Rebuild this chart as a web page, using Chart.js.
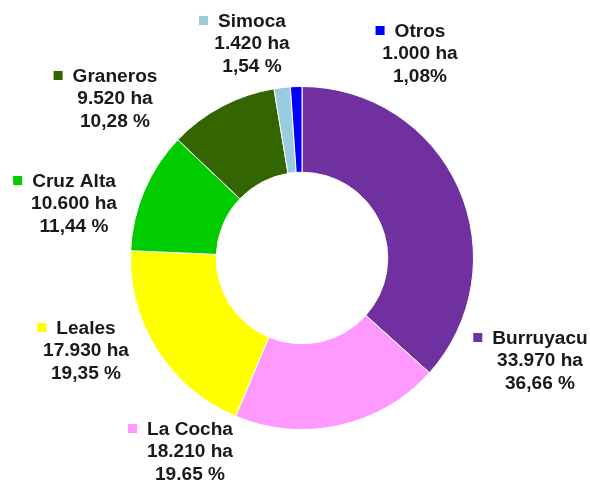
<!DOCTYPE html>
<html>
<head>
<meta charset="utf-8">
<script src="https://cdn.jsdelivr.net/npm/chart.js@4.4.0/dist/chart.umd.min.js"></script>
<style>
  html, body { margin: 0; padding: 0; background: #fff; }
  #wrap { width: 590px; height: 482px; }
</style>
</head>
<body>
<div id="wrap"><canvas id="dona" width="590" height="482"></canvas></div>
<script>
// Datos: superficie por departamento
const departamentos = ['Burruyacu', 'La Cocha', 'Leales', 'Cruz Alta', 'Graneros', 'Simoca', 'Otros'];
const hectareas = [33970, 18210, 17930, 10600, 9520, 1420, 1000];
const porcentajes = ['36,66 %', '19.65 %', '19,35 %', '11,44 %', '10,28 %', '1,54 %', '1,08%'];
const colores = ['#7030A0', '#FF99FF', '#FFFF00', '#00CC00', '#336600', '#99CCDD', '#0000FF'];

// Ubicación de cada etiqueta (centro del texto, borde superior de la 1ra línea)
const posEtiquetas = [
    [540, 331], [190, 422], [86, 321], [74, 174], [115, 69], [252, 14], [420, 24]
];

function formatoHa(v) {
    return v.toString().replace(/\B(?=(\d{3})+(?!\d))/g, '.') + ' ha';
}

// Plugin para dibujar las etiquetas con su cuadrito de color
const etiquetasPlugin = {
    id: 'etiquetas',
    afterDraw(chart) {
        const ctx = chart.ctx;
        ctx.save();
        ctx.font = 'bold 18px "Liberation Sans", Arial, sans-serif';
        ctx.textAlign = 'center';
        ctx.textBaseline = 'top';
        ctx.fillStyle = '#1a1a1a';
        departamentos.forEach((nombre, i) => {
            const [cx, top] = posEtiquetas[i];
            const lineas = [nombre, formatoHa(hectareas[i]), porcentajes[i]];
            lineas.forEach((txt, j) => {
                ctx.save();
                ctx.translate(cx, top + j * 22.5);
                ctx.scale(1.06, 1);
                ctx.fillStyle = '#1a1a1a';
                ctx.fillText(txt, 0, -1);
                ctx.restore();
            });
            const w = ctx.measureText(nombre).width * 1.06;
            ctx.fillStyle = colores[i];
            ctx.fillRect(cx - w / 2 - 19, top + 2, 9, 9);
        });
        ctx.restore();
    }
};

new Chart(document.getElementById('dona'), {
    type: 'doughnut',
    data: {
        labels: departamentos,
        datasets: [{
            data: hectareas,
            backgroundColor: colores,
            borderColor: '#ffffff',
            borderWidth: 1
        }]
    },
    options: {
        responsive: false,
        animation: false,
        cutout: '50%',
        layout: { padding: { left: 130, right: 116, top: 86, bottom: 52 } },
        plugins: {
            legend: { display: false },
            tooltip: { enabled: false }
        }
    },
    plugins: [etiquetasPlugin]
});
</script>
</body>
</html>
